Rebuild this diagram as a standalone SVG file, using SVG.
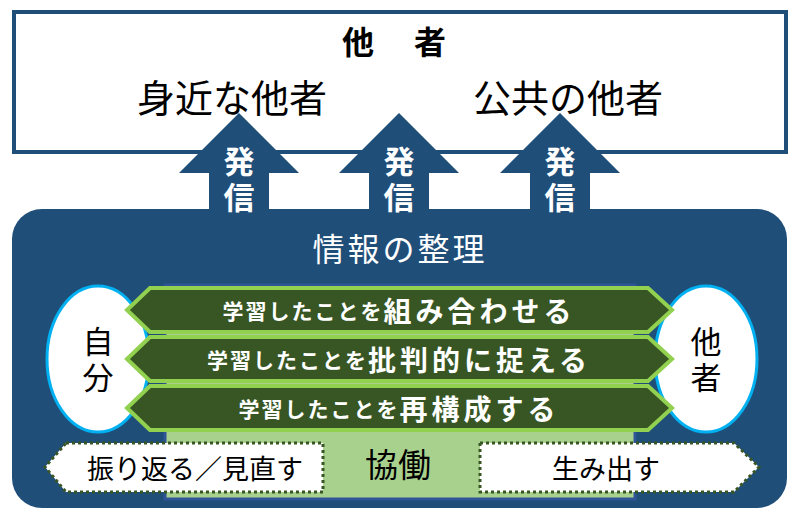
<svg xmlns="http://www.w3.org/2000/svg" width="804" height="512" viewBox="0 0 804 512">
<style>
.jp{font-family:"Noto Sans CJK JP","Noto Sans CJK SC",sans-serif}
.blk{fill:#000}
.wht{fill:#fff}
.band{fill:#375623;stroke:#92d050;stroke-width:4;stroke-linejoin:miter}
.ell{fill:#fff;stroke:#00b0f0;stroke-width:3}
.pent{fill:#fff;stroke:#375623;stroke-width:3;stroke-dasharray:3 3}
.arrow{fill:#1f4e79}
.sm{font-size:21px;letter-spacing:2px;font-weight:bold}
.bg{font-size:28px;letter-spacing:4px;font-weight:bold}
.vert{writing-mode:vertical-rl;font-size:31px;letter-spacing:5px}
</style>
<rect width="804" height="512" fill="#fff"/>
<g id="others-box">
<rect x="14" y="12" width="772" height="140" fill="#fff" stroke="#1f4e79" stroke-width="4"/>
<text class="jp blk" x="396" y="40" text-anchor="middle" dominant-baseline="central" font-size="32" font-weight="bold" letter-spacing="4">他　者</text>
<text class="jp blk" x="232" y="95" text-anchor="middle" dominant-baseline="central" font-size="38">身近な他者</text>
<text class="jp blk" x="568" y="95" text-anchor="middle" dominant-baseline="central" font-size="38">公共の他者</text>
</g>
<g id="panel">
<rect x="12" y="209" width="775" height="299" rx="30" ry="30" fill="#1f4e79"/>
<text class="jp wht" x="400" y="247" text-anchor="middle" dominant-baseline="central" font-size="32" letter-spacing="3">情報の整理</text>
<rect x="165" y="285" width="470" height="214" fill="#a9d18e" stroke="#2f5597" stroke-width="3"/>
</g>
<g id="connectors">
<path class="arrow" d="M239 113 L299 173 L269 173 L269 215 L209 215 L209 173 L179 173 Z"/>
<path class="arrow" d="M399 113 L459 173 L429 173 L429 215 L369 215 L369 173 L339 173 Z"/>
<path class="arrow" d="M560 113 L620 173 L590 173 L590 215 L530 215 L530 173 L500 173 Z"/>
<g class="jp wht" font-size="30" font-weight="bold" text-anchor="middle">
<text class="vert" x="239" y="182">発信</text>
<text class="vert" x="399" y="182">発信</text>
<text class="vert" x="560" y="182">発信</text>
</g>
</g>
<g id="self">
<ellipse class="ell" cx="98" cy="359" rx="51" ry="73"/>
<text class="jp blk vert" x="98" y="362" text-anchor="middle">自分</text>
</g>
<g id="other">
<ellipse class="ell" cx="706" cy="359" rx="51" ry="73"/>
<text class="jp blk vert" x="706" y="362" text-anchor="middle">他者</text>
</g>
<g id="band1">
<path class="band" d="M150 288 L648 288 L672 310 L648 332 L150 332 L127 310 Z"/>
<text class="jp wht" x="399" y="310" text-anchor="middle" dominant-baseline="central"><tspan class="sm">学習したことを</tspan><tspan class="bg">組み合わせる</tspan></text>
</g>
<g id="band2">
<path class="band" d="M150 337 L648 337 L672 359 L648 381 L150 381 L127 359 Z"/>
<text class="jp wht" x="399" y="359" text-anchor="middle" dominant-baseline="central"><tspan class="sm">学習したことを</tspan><tspan class="bg">批判的に捉える</tspan></text>
</g>
<g id="band3">
<path class="band" d="M150 386 L648 386 L672 408 L648 430 L150 430 L127 408 Z"/>
<text class="jp wht" x="399" y="408" text-anchor="middle" dominant-baseline="central"><tspan class="sm">学習したことを</tspan><tspan class="bg">再構成する</tspan></text>
</g>
<g id="collab">
<text class="jp blk" x="398" y="463" text-anchor="middle" dominant-baseline="central" font-size="33">協働</text>
</g>
<g id="reflect">
<path class="pent" d="M66 443 L323 443 L323 492 L66 492 L45 467 Z"/>
<text class="jp blk" x="195" y="467" text-anchor="middle" dominant-baseline="central" font-size="27">振り返る／見直す</text>
</g>
<g id="create">
<path class="pent" d="M480 443 L734 443 L759 467 L734 492 L480 492 Z"/>
<text class="jp blk" x="606" y="467" text-anchor="middle" dominant-baseline="central" font-size="27">生み出す</text>
</g>
</svg>
